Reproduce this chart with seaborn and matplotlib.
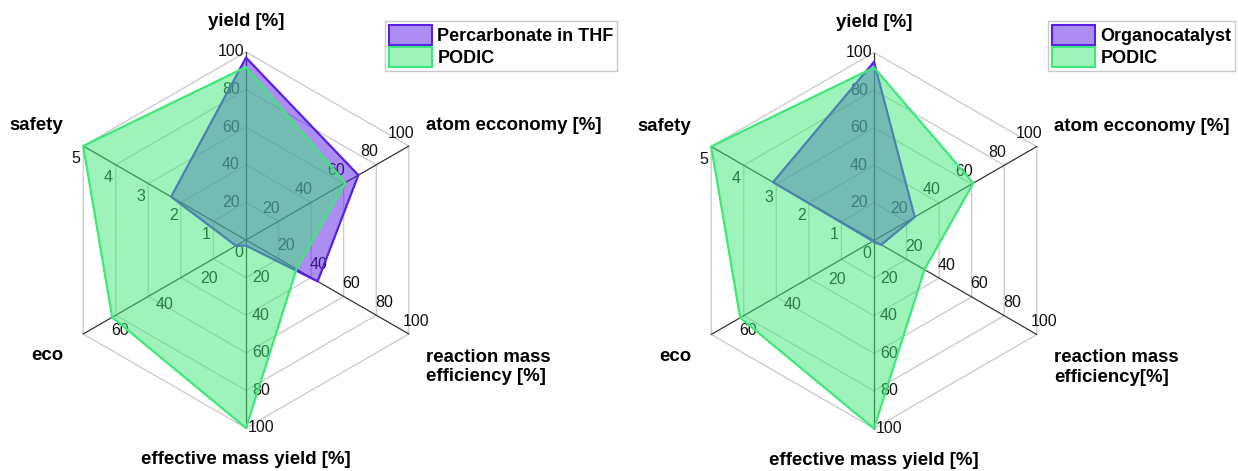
import numpy as np
import matplotlib
matplotlib.use("Agg")
import matplotlib.pyplot as plt
from matplotlib.patches import Patch
import seaborn as sns

sns.set_theme(style="white")
plt.rcParams['font.family'] = ['Liberation Sans', 'DejaVu Sans']

# datos
ejes_izq = ["yield [%]", "atom ecconomy [%]", "reaction mass\nefficiency [%]",
            "effective mass yield [%]", "eco", "safety"]
ejes_der = ["yield [%]", "atom ecconomy [%]", "reaction mass\nefficiency[%]",
            "effective mass yield [%]", "eco", "safety"]
max_ejes = [100, 100, 100, 100, 73, 5]
ticks_ejes = [[20, 40, 60, 80, 100], [20, 40, 60, 80, 100], [20, 40, 60, 80, 100],
              [20, 40, 60, 80, 100], [20, 40, 60], [1, 2, 3, 4, 5]]

percarbonate = [97, 69, 44, 3, 4.5, 2.3]
podic = [92, 61, 31, 100, 60, 5]
organocatalyst = [95, 25, 4.5, 1, 0.5, 3.1]

morado = "#5a1ee6"
verde = "#3ee878"

angulos = np.deg2rad([90, 30, -30, -90, -150, 150])
R = 188


def xy(cx, cy, f, ang):
    return cx + f * R * np.cos(ang), cy - f * R * np.sin(ang)


def radar(ax, cx, cy, etiquetas, series, nombres, pos_leyenda):
    # anillos hexagonales
    for f in [0.2, 0.4, 0.6, 0.8, 1.0]:
        px, py = xy(cx, cy, f, np.append(angulos, angulos[0]))
        ax.plot(px, py, color="#c8c8c8", lw=0.9, zorder=1)
    # ejes
    for a in angulos:
        px, py = xy(cx, cy, np.array([0, 1]), a)
        ax.plot(px, py, color="#333333", lw=0.9, zorder=2)
    # etiquetas de los ticks
    for a, mx, tks in zip(angulos, max_ejes, ticks_ejes):
        ox, oy = 15 * np.cos(a + np.pi / 2), -15 * np.sin(a + np.pi / 2)
        for t in tks:
            px, py = xy(cx, cy, t / mx, a)
            ax.text(px + ox, py + oy, f"{t}", ha="center", va="center",
                    fontsize=11.5, color="#111111", zorder=3)
    a = angulos[5]
    ax.text(cx + 15 * np.cos(a + np.pi / 2), cy - 15 * np.sin(a + np.pi / 2), "0",
            ha="center", va="center", fontsize=11.5, color="#111111", zorder=3)

    # nombres de los ejes
    kw = dict(fontsize=13.4, fontweight="bold", color="black", va="center")
    ax.text(cx, cy - 218, etiquetas[0], ha="center", **kw)
    ax.text(cx + 180, cy - 114, etiquetas[1], ha="left", **kw)
    ax.text(cx + 180, cy + 127, etiquetas[2], ha="left", linespacing=1.2, **kw)
    ax.text(cx, cy + 220, etiquetas[3], ha="center", **kw)
    ax.text(cx - 183, cy + 116, etiquetas[4], ha="right", **kw)
    ax.text(cx - 183, cy - 114, etiquetas[5], ha="right", **kw)

    # series
    handles = []
    for vals, color, nombre, z in zip(series, [morado, verde], nombres, [4, 5]):
        f = np.array(vals) / np.array(max_ejes)
        px, py = xy(cx, cy, f, angulos)
        ax.fill(px, py, facecolor=color, alpha=0.5, edgecolor="none", zorder=z)
        ax.plot(np.append(px, px[0]), np.append(py, py[0]), color=color, lw=1.6, zorder=z)
        handles.append(Patch(facecolor=matplotlib.colors.to_rgba(color, 0.5),
                             edgecolor=color, lw=1.5, label=nombre))

    fig = ax.figure
    leg = fig.legend(handles=handles, loc="upper left",
                     bbox_to_anchor=(pos_leyenda[0] / 1238, 1 - pos_leyenda[1] / 471),
                     prop={"size": 13, "weight": "bold"}, frameon=True, fancybox=False,
                     handlelength=2.4, handleheight=1.35, labelspacing=0.12,
                     borderpad=0.2, handletextpad=0.3, borderaxespad=0)
    for txt in leg.get_texts():
        txt.set_color("black")
    leg.get_frame().set_edgecolor("#bbbbbb")
    leg.get_frame().set_linewidth(1.0)


fig = plt.figure(figsize=(12.38, 4.71), dpi=100)
ax = fig.add_axes([0, 0, 1, 1])
ax.set_xlim(0, 1238)
ax.set_ylim(471, 0)
ax.axis("off")

radar(ax, 246, 240, ejes_izq, [percarbonate, podic],
      ["Percarbonate in THF", "PODIC"], (385, 21))
radar(ax, 874, 240.5, ejes_der, [organocatalyst, podic],
      ["Organocatalyst", "PODIC"], (1048, 21))

plt.savefig("out.png", dpi=100)
